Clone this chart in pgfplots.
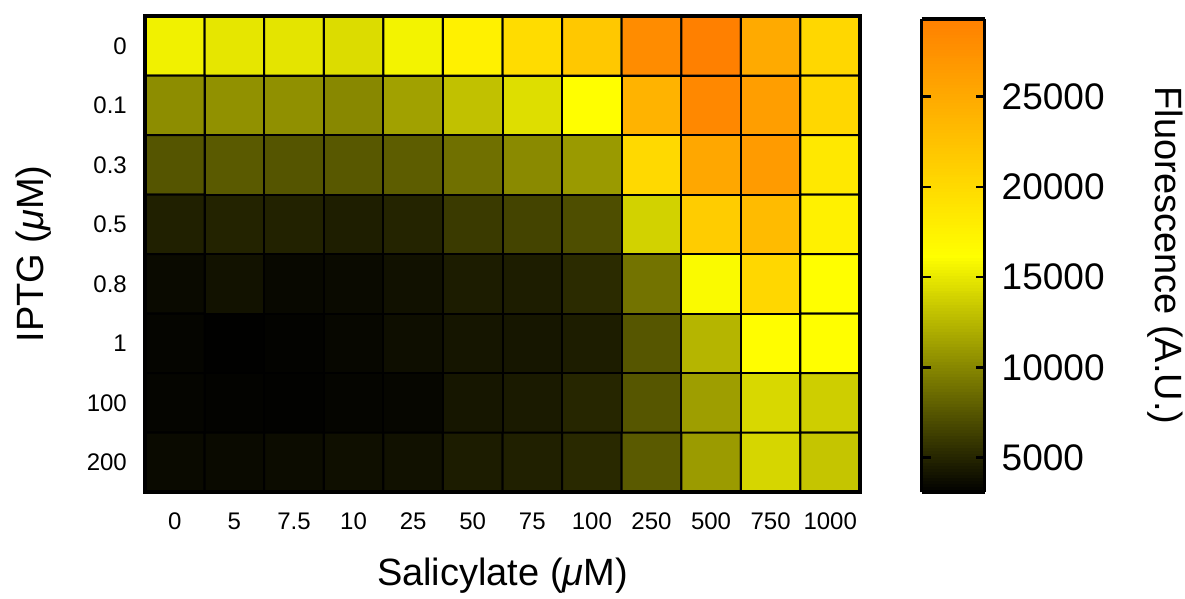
\documentclass[border=0pt]{standalone}
\usepackage{fontspec}
\setmainfont{Liberation Sans}
\usepackage{pgfplots}
\pgfplotsset{compat=1.18}
\usepackage{pgfplotstable}
\usetikzlibrary{calc}

\pgfplotstableread{
x y c
0 0 15500
1 0 14900
2 0 14800
3 0 14400
4 0 15600
5 0 17600
6 0 19800
7 0 21900
8 0 28100
9 0 29300
10 0 25000
11 0 20300
0 1 10350
1 1 10560
2 1 10500
3 1 10100
4 1 11400
5 1 13000
6 1 14500
7 1 16300
8 1 24000
9 1 28500
10 1 26200
11 1 20300
0 2 7450
1 2 7750
2 2 7450
3 2 7600
4 2 7860
5 2 8850
6 2 10200
7 2 11000
8 2 20100
9 2 25300
10 2 26500
11 2 18600
0 3 4750
1 3 4900
2 3 4850
3 3 4650
4 3 4970
5 3 6100
6 3 6620
7 3 7090
8 3 13870
9 3 21500
10 3 23200
11 3 17600
0 4 3620
1 4 4030
2 4 3510
3 4 3620
4 4 3980
5 4 4550
6 4 4600
7 4 5330
8 4 9000
9 4 15950
10 4 20300
11 4 16300
0 5 3360
1 5 3150
2 5 3250
3 5 3460
4 5 3820
5 5 4190
6 5 4240
7 5 4600
8 5 7500
9 5 12400
10 5 16400
11 5 16300
0 6 3360
1 6 3250
2 6 3200
3 6 3360
4 6 3410
5 6 4240
6 6 4450
7 6 5070
8 6 7500
9 6 11230
10 6 14180
11 6 13670
0 7 3620
1 7 3620
2 7 3720
3 7 3880
4 7 3980
5 7 4550
6 7 4750
7 7 5230
8 7 7750
9 7 11080
10 7 14080
11 7 13250
}\datatable

\begin{document}
\begin{tikzpicture}
\path[use as bounding box] (-145pt,-106pt) rectangle (1040pt,492pt);
\begin{axis}[
  scale only axis, width=715pt, height=476pt,
  xmin=-0.5, xmax=11.5, ymin=-0.5, ymax=7.5, y dir=reverse,
  enlargelimits=false, axis on top,
  xtick={0,...,11}, xticklabels={0,5,7.5,10,25,50,75,100,250,500,750,1000},
  ytick={0,...,7}, yticklabels={0,0.1,0.3,0.5,0.8,1,100,200},
  major tick length=0pt,
  tick label style={font=\fontsize{24}{28}\selectfont},
  xticklabel style={anchor=north, inner sep=0pt, yshift=-21pt},
  yticklabel style={anchor=east, inner sep=0pt, xshift=-18pt},
  label style={font=\fontsize{38}{44}\selectfont},
  xlabel={Salicylate (\textit{μ}M)}, ylabel={IPTG (\textit{μ}M)},
  xlabel style={at={(axis description cs:0.5,-0.139)}, anchor=north, inner sep=0pt},
  ylabel style={at={(axis description cs:-0.130,0.5)}, anchor=south, inner sep=0pt},
  axis line style={line width=4pt},
  colormap={fl}{rgb255(0)=(0,0,0); rgb255(1)=(255,255,0); rgb255(2)=(255,128,0)},
  point meta min=3100, point meta max=29300,
  colorbar sampled,
  colorbar style={
    name=cb,
    at={(parent axis.north east)}, anchor=north west, xshift=53pt, yshift=-3pt,
    width=63pt, height=473pt,
    xmin=0, xmax=1, y dir=normal,
    samples=160, axis on top,
    ytick={5000,10000,15000,20000,25000},
    scaled y ticks=false,
    yticklabel pos=right, ytick pos=both,
    tick align=inside, major tick length=9pt,
    ytick style={line width=2.5pt, draw=black},
    yticklabel style={font=\fontsize{37}{44}\selectfont, anchor=west, inner sep=0pt, xshift=17pt,
      /pgf/number format/1000 sep={}, /pgf/number format/assume math mode=true},
    ylabel={Fluorescence (A.U.)},
    ylabel style={font=\fontsize{38}{44}\selectfont, at={(axis description cs:3.87,0.5)}, anchor=center, rotate=180},
    axis line style={line width=3.5pt},
  },
]
\addplot[matrix plot*, mesh/cols=12, point meta=explicit, draw=black, line width=2pt] table[meta=c] {\datatable};
\end{axis}
\foreach \f in {0.07252,0.26336,0.45420,0.64504,0.83588}{
  \draw[line width=2.5pt] ($(cb.south east)!\f!(cb.north east)$) -- ++(-9pt,0pt);
  \draw[line width=2.5pt] ($(cb.south west)!\f!(cb.north west)$) -- ++(9pt,0pt);
}
\end{tikzpicture}
\end{document}
